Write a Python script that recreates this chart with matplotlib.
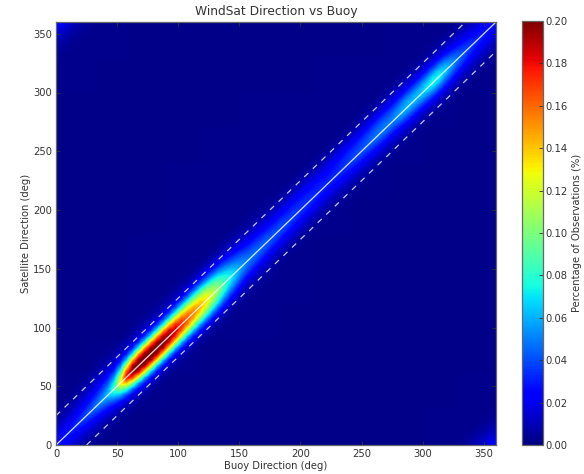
import numpy as np
import matplotlib
matplotlib.use("Agg")
import matplotlib.pyplot as plt

title = "WindSat Direction vs Buoy"
xlabel = "Buoy Direction (deg)"
ylabel = "Satellite Direction (deg)"
cbar_label = "Percentage of Observations (%)"
xticks = [0, 50, 100, 150, 200, 250, 300, 350]
yticks = [0, 50, 100, 150, 200, 250, 300, 350]
cticks = [0.00, 0.02, 0.04, 0.06, 0.08, 0.10, 0.12, 0.14, 0.16, 0.18, 0.20]
offset_band = 25

# Values in 0.001 %. Each row is a 5-deg buoy bin; columns are satellite bins
# from 7 bins below the diagonal to 7 bins above it (wrapping at 360).
band = [
[3,4,6,8,12,17,23,28,23,17,12,8,6,4,3],
[3,4,6,8,12,17,24,30,24,17,12,8,6,4,3],
[3,4,5,8,12,18,25,32,26,19,13,9,6,4,3],
[3,4,5,8,13,19,27,35,29,21,15,10,7,5,3],
[3,4,5,8,13,20,30,39,32,24,17,12,8,5,4],
[3,4,5,8,14,22,33,44,36,27,19,13,9,6,4],
[3,4,5,9,15,24,37,50,41,31,22,15,10,6,4],
[3,4,5,9,16,27,42,57,47,36,25,16,10,7,4],
[3,4,6,10,18,31,49,67,56,42,28,18,11,7,4],
[3,4,6,12,23,42,68,90,76,54,34,20,12,7,4],
[3,4,7,14,30,60,98,135,115,80,47,24,13,7,4],
[3,5,8,17,38,82,140,185,165,115,62,29,14,8,4],
[3,5,9,20,46,102,170,205,190,140,72,32,15,8,5],
[3,5,10,23,54,118,185,212,198,150,78,35,16,8,5],
[3,5,11,26,60,128,192,215,200,152,78,35,16,8,5],
[3,5,11,27,64,132,195,214,198,150,76,34,16,8,5],
[3,5,11,27,64,134,194,212,196,148,76,34,16,8,5],
[3,5,11,27,64,132,190,208,192,146,76,35,17,8,5],
[3,5,11,27,64,128,184,200,186,140,76,36,18,8,5],
[3,5,11,27,62,122,174,190,176,134,76,38,18,9,5],
[3,5,12,28,62,118,162,178,164,128,76,39,19,9,5],
[3,5,12,28,60,112,152,166,154,122,76,40,20,9,5],
[3,5,12,28,60,106,144,156,146,116,76,40,20,10,5],
[3,5,12,28,58,100,134,146,138,110,74,40,20,10,5],
[3,5,12,28,56,94,124,136,126,102,68,38,20,10,5],
[3,5,12,27,52,84,110,122,112,90,62,35,19,10,5],
[3,5,12,25,47,74,95,105,97,78,54,32,18,9,5],
[3,5,11,23,40,62,80,88,82,64,46,28,16,9,5],
[3,5,10,20,34,52,68,76,70,54,38,24,15,8,5],
[3,4,9,17,29,44,58,64,58,46,33,21,13,8,5],
[3,4,8,14,24,37,49,55,50,40,28,18,12,7,4],
[3,4,7,12,20,32,43,50,45,35,25,16,10,6,4],
[3,4,7,12,19,30,41,48,43,34,24,15,10,6,4],
[3,4,6,11,18,28,39,46,41,33,23,15,9,6,4],
[3,4,6,11,17,26,37,44,40,31,22,14,9,5,4],
[3,4,6,10,16,25,35,42,38,30,21,14,8,5,3],
[3,3,5,9,15,24,34,41,37,30,21,13,8,5,3],
[3,3,5,9,14,22,32,40,36,29,20,13,8,5,3],
[3,3,5,9,14,22,31,38,35,30,21,13,8,5,3],
[3,3,5,8,13,21,30,37,34,29,22,13,8,5,3],
[3,3,5,8,13,20,29,35,33,28,21,13,8,5,3],
[3,3,5,8,12,19,28,34,32,27,21,13,8,5,3],
[3,3,5,8,12,19,27,33,31,27,20,12,7,5,3],
[3,3,5,7,12,18,26,32,31,26,19,12,7,4,3],
[3,3,5,7,12,18,26,32,30,25,20,13,7,4,3],
[3,3,5,7,12,18,26,33,31,27,22,14,8,4,3],
[3,3,5,7,12,19,27,34,33,29,23,14,8,4,3],
[3,3,5,8,12,20,29,36,35,31,24,14,8,4,3],
[3,3,5,8,13,21,31,39,37,32,24,15,8,4,3],
[3,3,5,8,13,22,32,41,39,33,25,15,9,5,3],
[3,3,5,8,14,23,33,43,41,35,26,16,9,5,3],
[3,3,5,9,14,24,35,46,44,37,28,17,9,5,3],
[3,3,5,9,15,25,37,49,47,39,29,17,10,5,3],
[3,3,5,9,15,26,39,50,48,40,29,17,10,5,3],
[3,3,5,9,15,26,39,50,48,40,28,17,10,5,3],
[3,3,5,9,16,27,41,54,52,42,29,17,10,5,3],
[3,3,5,10,17,29,46,60,57,46,30,17,10,5,3],
[3,3,5,10,18,31,48,63,60,47,30,17,10,5,3],
[3,3,5,10,18,32,49,63,60,47,30,17,10,5,3],
[3,3,5,10,18,33,51,66,62,48,30,17,10,5,3],
[3,3,5,10,19,35,54,72,67,50,31,17,9,5,3],
[3,3,5,11,20,37,58,78,72,52,31,17,9,5,3],
[3,3,6,11,21,38,58,78,70,50,30,16,9,5,3],
[3,3,6,11,20,35,52,68,62,45,27,15,9,5,3],
[3,3,6,10,19,32,46,58,52,38,24,14,8,4,3],
[3,3,5,10,17,28,40,50,44,32,21,13,8,4,3],
[3,3,5,9,15,25,35,43,37,28,18,12,7,4,3],
[3,3,5,9,14,22,31,38,33,24,16,11,7,4,3],
[3,3,5,8,13,20,28,34,29,21,14,9,6,4,3],
[3,3,5,8,12,19,26,32,27,20,13,9,6,4,3],
[3,4,5,8,12,17,24,29,25,18,12,8,5,4,3],
[3,4,5,8,12,17,23,28,23,17,12,8,5,4,3],
]

# Far-field level in 0.001 %, 12 x 12 blocks of 30 deg; first row is the bottom.
background = [
[3,3,2,2,2,2,2,2,2,2,3,3],
[3,3,3,2,2,2,2,2,2,2,2,3],
[2,3,3,3,2,2,2,2,2,2,2,2],
[2,2,3,3,3,3,2,2,2,2,2,2],
[2,2,3,3,4,3,3,2,2,2,2,2],
[2,2,3,3,3,3,3,2,2,2,2,2],
[2,2,2,3,3,3,3,3,2,2,2,2],
[2,2,2,3,3,3,3,3,3,2,2,2],
[2,2,2,2,3,3,3,3,3,3,2,2],
[2,2,2,2,2,3,3,3,3,3,3,2],
[3,2,2,2,2,2,2,3,3,3,3,3],
[3,3,2,2,2,2,2,2,2,3,3,3],
]

grid = np.kron(np.array(background, dtype=float), np.ones((6, 6)))
band_arr = np.array(band, dtype=float)
for ix in range(band_arr.shape[0]):
    for j, off in enumerate(range(-7, 8)):
        iy = (ix + off) % 72
        grid[iy, ix] = max(grid[iy, ix], band_arr[ix, j])
grid = grid / 1000.0

W, H = 584, 474
fig = plt.figure(figsize=(W / 100, H / 100), dpi=100)
ax = fig.add_axes([56 / W, 1 - 445 / H, 440 / W, 423 / H])
mesh = ax.imshow(grid, origin="lower", extent=[0, 360, 0, 360], aspect="auto",
                 cmap="jet", vmin=0, vmax=0.2, interpolation="bilinear")

ink = "#333333"
line_c = "#e8ecff"
ax.plot([0, 360], [0, 360], color="white", lw=0.9, alpha=0.85)
ax.plot([0, 360 - offset_band], [offset_band, 360], color=line_c, lw=0.9, alpha=0.85, ls=(0, (4.5, 5)))
ax.plot([offset_band, 360], [0, 360 - offset_band], color=line_c, lw=0.9, alpha=0.85, ls=(0, (4.5, 5)))
ax.set_xlim(0, 360)
ax.set_ylim(0, 360)
ax.set_xticks(xticks)
ax.set_yticks(yticks)
ax.tick_params(direction="in", length=3, width=0.6, labelsize=7.2, colors=ink, pad=3, top=True, right=True)
ax.set_title(title, fontsize=8.8, color=ink, pad=5)
ax.set_xlabel(xlabel, fontsize=7.2, color=ink, labelpad=1)
ax.set_ylabel(ylabel, fontsize=7.2, color=ink, labelpad=1)
for s in ax.spines.values():
    s.set_linewidth(0.9)
    s.set_color("#666666")

cax = fig.add_axes([522 / W, 1 - 445 / H, 21 / W, 424 / H])
cb = fig.colorbar(mesh, cax=cax)
cb.set_ticks(cticks)
cb.set_ticklabels(["%.2f" % t for t in cticks])
cb.ax.tick_params(direction="in", length=3, width=0.6, labelsize=7.2, colors=ink, pad=2)
cb.set_label(cbar_label, fontsize=7.2, color=ink, labelpad=3)
cb.outline.set_linewidth(0.9)
cb.outline.set_edgecolor("#666666")

fig.savefig("out.png", dpi=100)
